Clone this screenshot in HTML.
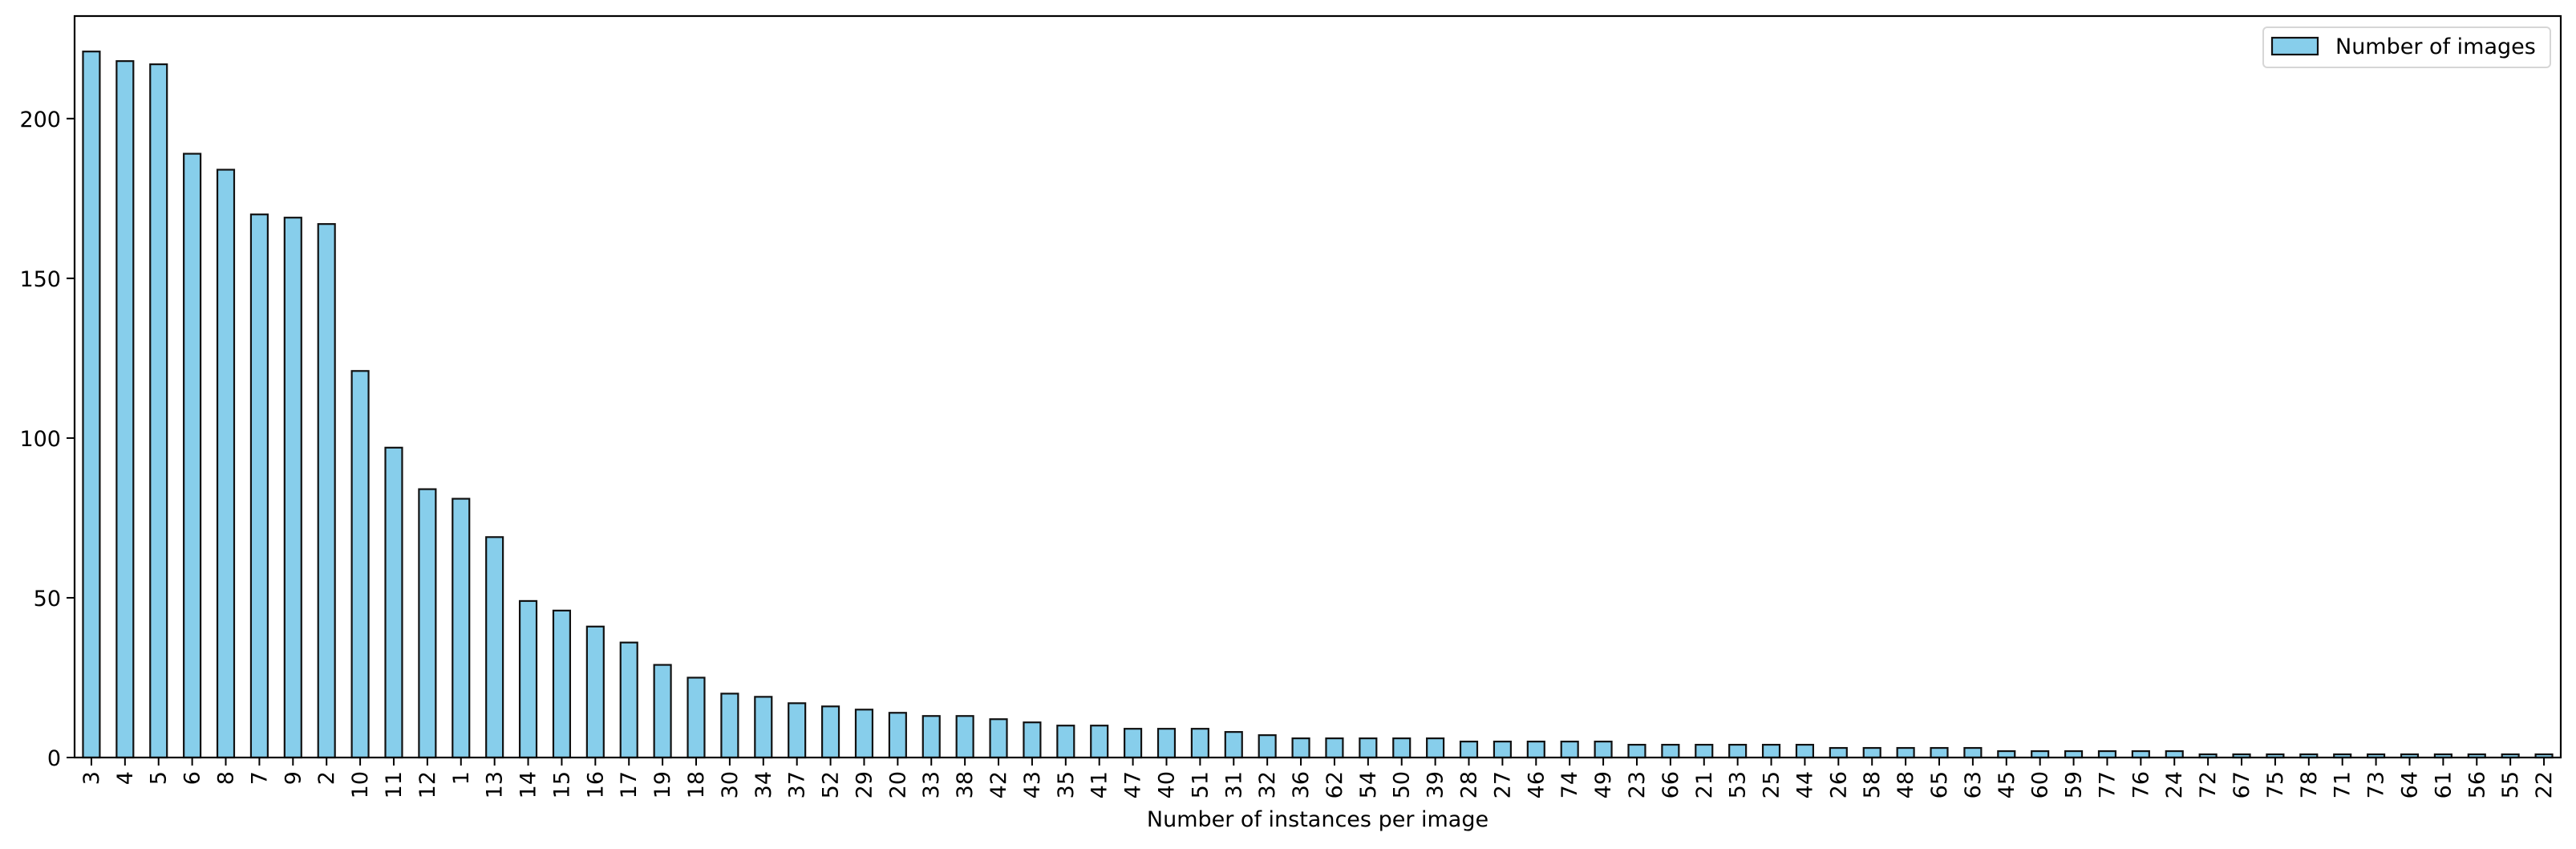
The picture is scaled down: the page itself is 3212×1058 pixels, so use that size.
<!DOCTYPE html>
<html><head><meta charset="utf-8"><style>
html,body{margin:0;padding:0;background:#fff;}
svg{display:block;font-family:"DejaVu Sans","Liberation Sans",sans-serif;}
</style></head><body>
<svg id="chart" width="3212" height="1058" viewBox="0 0 3212 1058" xmlns="http://www.w3.org/2000/svg">
<rect width="3212" height="1058" fill="#fff"/>
<g id="bars"></g>
<g id="yaxis"></g>
<g id="xaxis"></g>
<rect x="93" y="20" width="3100" height="924" fill="none" stroke="#000" stroke-width="2.2"/>
<text x="1643" y="1030" font-size="27" text-anchor="middle">Number of instances per image</text>
<g>
<rect x="2822" y="34" width="358" height="50" rx="5" fill="#fff" stroke="#d6d6d6" stroke-width="2"/>
<rect x="2833" y="47" width="57" height="21" fill="#87ceeb" stroke="#111" stroke-width="2.2"/>
<text x="2912" y="67" font-size="27">Number of images</text>
</g>
</svg>
<script>
const categories = ["3","4","5","6","8","7","9","2","10","11","12","1","13","14","15","16","17","19","18","30","34","37","52","29","20","33","38","42","43","35","41","47","40","51","31","32","36","62","54","50","39","28","27","46","74","49","23","66","21","53","25","44","26","58","48","65","63","45","60","59","77","76","24","72","67","75","78","71","73","64","61","56","55","22"];
const counts = [221,218,217,189,184,170,169,167,121,97,84,81,69,49,46,41,36,29,25,20,19,17,16,15,14,13,13,12,11,10,10,9,9,9,8,7,6,6,6,6,6,5,5,5,5,5,4,4,4,4,4,4,3,3,3,3,3,2,2,2,2,2,2,1,1,1,1,1,1,1,1,1,1,1];
const yTicks = [0,50,100,150,200];

const NS = "http://www.w3.org/2000/svg";
const L = 93, R = 3193, T = 20, B = 944, YMAX = 232.1;
const step = (R - L) / categories.length;
function xPos(i){ return L + step * (i + 0.5); }
function yPos(v){ return B - (v / YMAX) * (B - T); }
function mk(tag, attrs, parent){ const e = document.createElementNS(NS, tag); for (const k in attrs) e.setAttribute(k, attrs[k]); parent.appendChild(e); return e; }

const gb = document.getElementById("bars");
const gx = document.getElementById("xaxis");
const gy = document.getElementById("yaxis");
const bw = step * 0.5;
categories.forEach((c, i) => {
  const y = yPos(counts[i]);
  const r = mk("rect", {x: xPos(i) - bw/2, y: y, width: bw, height: B - y, fill: "#87ceeb", stroke: "#111", "stroke-width": 2.2}, gb);
  
  
  const t = mk("line", {x1: xPos(i), x2: xPos(i), y1: B, y2: B + 10, stroke: "#000", "stroke-width": 2}, gx);
  
  
  const lb = mk("text", {x: 0, y: 0, "font-size": 27, "text-anchor": "end", transform: "translate(" + (xPos(i) + 9) + "," + (B + 17) + ") rotate(-90)"}, gx);
  lb.textContent = c;
  
  
});
yTicks.forEach(v => {
  const y = yPos(v);
  const t = mk("line", {x1: L - 10, x2: L, y1: y, y2: y, stroke: "#000", "stroke-width": 2}, gy);
  
  
  const lb = mk("text", {x: L - 17, y: y + 10, "font-size": 27, "text-anchor": "end"}, gy);
  lb.textContent = v;
  
  
});
</script>
</body></html>
